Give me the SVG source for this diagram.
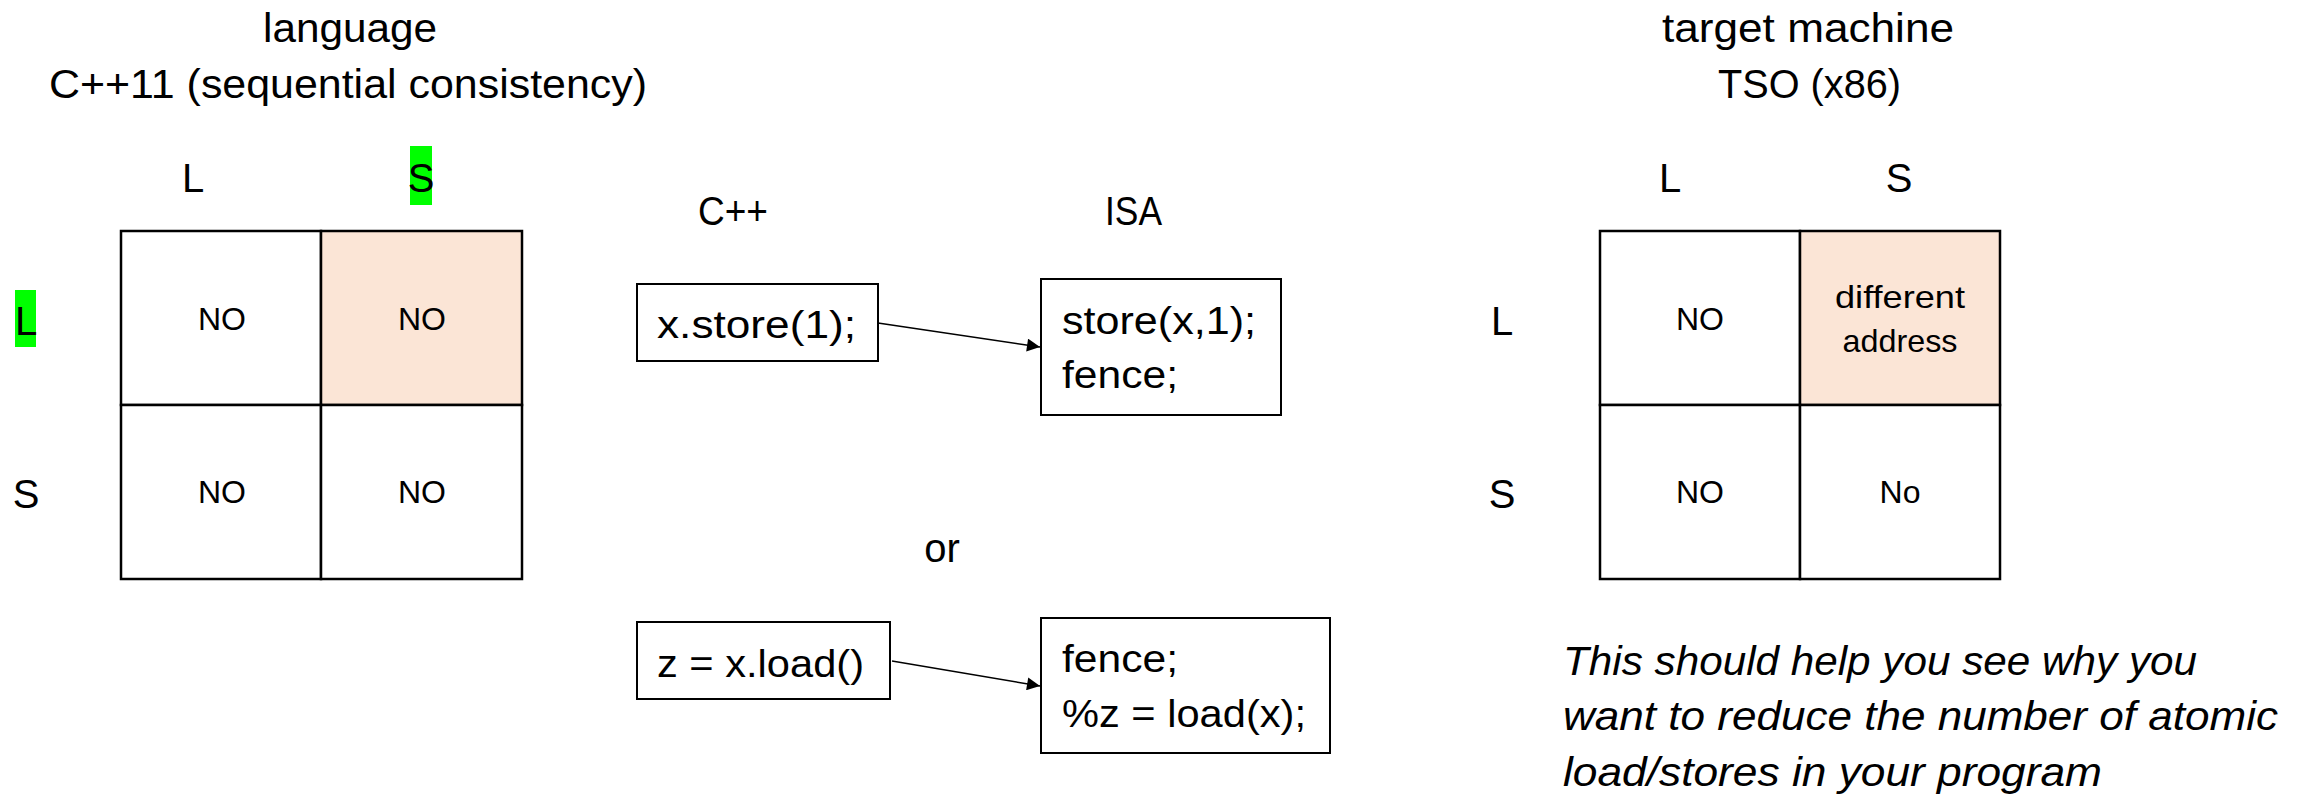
<svg xmlns="http://www.w3.org/2000/svg" width="2313" height="799" viewBox="0 0 2313 799">
<style>
text{font-family:"Liberation Sans",Arial,sans-serif;fill:#000}
.t{font-size:40px}
.lbl{font-size:40px;text-anchor:middle}
.cell{font-size:32px;text-anchor:middle}
.code{font-size:38px}
.it{font-size:40px;font-style:italic}
.grid{fill:#fff;stroke:#000;stroke-width:2.5}
.hot{fill:#FBE5D6;stroke:#000;stroke-width:2.5}
.box{fill:#fff;stroke:#000;stroke-width:2}
.hl{fill:#00FF00}
.conn{stroke:#000;stroke-width:1.5;fill:none;marker-end:url(#ah)}
</style>
<defs>
<marker id="ah" viewBox="0 0 10 10" refX="10" refY="5" markerUnits="userSpaceOnUse" markerWidth="16" markerHeight="13" orient="auto">
<path d="M0,0 L10,5 L0,10 z" fill="#000"/>
</marker>
</defs>

<g id="lang-title">
<text class="t" x="263" y="42" textLength="174" lengthAdjust="spacingAndGlyphs">language</text>
<text class="t" x="49" y="98" textLength="598" lengthAdjust="spacingAndGlyphs">C++11 (sequential consistency)</text>
</g>

<g id="lang-grid">
<rect class="hl" x="410" y="146" width="22" height="59"/>
<rect class="hl" x="15" y="290" width="21" height="57"/>
<text class="lbl" x="193" y="192">L</text>
<text class="lbl" x="421" y="192">S</text>
<text class="lbl" x="26" y="335">L</text>
<text class="lbl" x="26" y="508">S</text>
<rect class="grid" x="121" y="231" width="200" height="174"/>
<rect class="hot" x="321" y="231" width="201" height="174"/>
<rect class="grid" x="121" y="405" width="200" height="174"/>
<rect class="grid" x="321" y="405" width="201" height="174"/>
<text class="cell" x="222" y="330">NO</text>
<text class="cell" x="422" y="330">NO</text>
<text class="cell" x="222" y="503">NO</text>
<text class="cell" x="422" y="503">NO</text>
</g>

<g id="mid-headers">
<text class="t" x="698" y="225" textLength="70" lengthAdjust="spacingAndGlyphs">C++</text>
<text class="t" x="1105" y="225" textLength="57" lengthAdjust="spacingAndGlyphs">ISA</text>
<text class="t" x="942" y="562" text-anchor="middle">or</text>
</g>

<g id="cpp-store">
<rect class="box" x="637" y="284" width="241" height="77"/>
<text class="code" x="657" y="338" textLength="199" lengthAdjust="spacingAndGlyphs">x.store(1);</text>
</g>
<g id="isa-store">
<rect class="box" x="1041" y="279" width="240" height="136"/>
<text class="code" x="1062" y="334" textLength="194" lengthAdjust="spacingAndGlyphs">store(x,1);</text>
<text class="code" x="1062" y="388" textLength="116" lengthAdjust="spacingAndGlyphs">fence;</text>
</g>
<g id="cpp-load">
<rect class="box" x="637" y="622" width="253" height="77"/>
<text class="code" x="657" y="677" textLength="207" lengthAdjust="spacingAndGlyphs">z = x.load()</text>
</g>
<g id="isa-load">
<rect class="box" x="1041" y="618" width="289" height="135"/>
<text class="code" x="1062" y="672" textLength="116" lengthAdjust="spacingAndGlyphs">fence;</text>
<text class="code" x="1062" y="727" textLength="244" lengthAdjust="spacingAndGlyphs">%z = load(x);</text>
</g>

<g id="connectors">
<line class="conn" x1="878" y1="323" x2="1040" y2="347"/>
<line class="conn" x1="892" y1="661" x2="1040" y2="686"/>
</g>

<g id="tso-title">
<text class="t" x="1662" y="42" textLength="292" lengthAdjust="spacingAndGlyphs">target machine</text>
<text class="t" x="1718" y="98" textLength="183" lengthAdjust="spacingAndGlyphs">TSO (x86)</text>
</g>

<g id="tso-grid">
<text class="lbl" x="1670" y="192">L</text>
<text class="lbl" x="1899" y="192">S</text>
<text class="lbl" x="1502" y="335">L</text>
<text class="lbl" x="1502" y="508">S</text>
<rect class="grid" x="1600" y="231" width="200" height="174"/>
<rect class="hot" x="1800" y="231" width="200" height="174"/>
<rect class="grid" x="1600" y="405" width="200" height="174"/>
<rect class="grid" x="1800" y="405" width="200" height="174"/>
<text class="cell" x="1700" y="330">NO</text>
<text class="cell" x="1900" y="308" textLength="130" lengthAdjust="spacingAndGlyphs">different</text>
<text class="cell" x="1900" y="352" textLength="115" lengthAdjust="spacingAndGlyphs">address</text>
<text class="cell" x="1700" y="503">NO</text>
<text class="cell" x="1900" y="503">No</text>
</g>

<g id="note">
<text class="it" x="1563" y="675" textLength="634" lengthAdjust="spacingAndGlyphs">This should help you see why you</text>
<text class="it" x="1563" y="730" textLength="715" lengthAdjust="spacingAndGlyphs">want to reduce the number of atomic</text>
<text class="it" x="1563" y="786" textLength="539" lengthAdjust="spacingAndGlyphs">load/stores in your program</text>
</g>
</svg>
